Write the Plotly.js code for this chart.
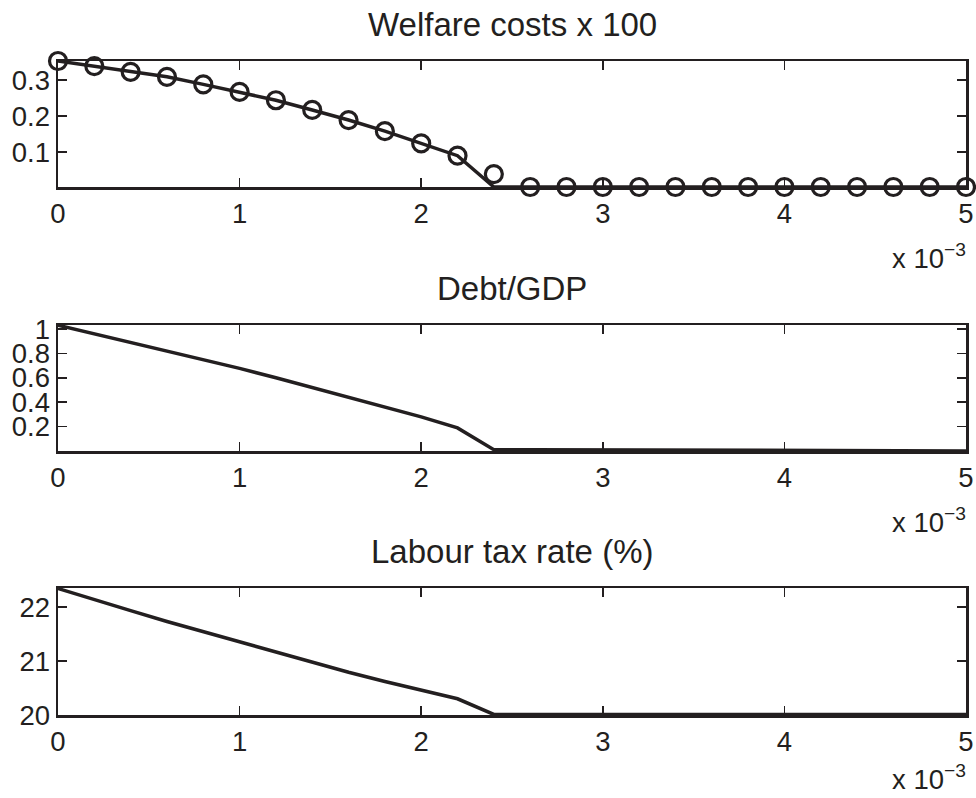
<!DOCTYPE html>
<html>
<head>
<meta charset="utf-8">
<script src="https://cdn.plot.ly/plotly-3.0.1.min.js"></script>
<style>html,body{margin:0;padding:0;background:#fff;}#chart{width:976px;height:798px;}</style>
</head>
<body>
<div id="chart"></div>
<script>
// x grid (units of 1e-3)
const xGrid = [0,0.2,0.4,0.6,0.8,1.0,1.2,1.4,1.6,1.8,2.0,2.2,2.4,2.6,2.8,3.0,3.2,3.4,3.6,3.8,4.0,4.2,4.4,4.6,4.8,5.0];

// Welfare costs x 100 (markers)
const welfareMarkers = [0.353,0.339,0.323,0.309,0.288,0.267,0.244,0.217,0.189,0.158,0.124,0.090,0.039,
  0.003,0.003,0.003,0.003,0.003,0.003,0.003,0.003,0.003,0.003,0.003,0.003,0.003];
// Welfare costs x 100 (line)
const welfareLine = [0.353,0.339,0.323,0.309,0.288,0.267,0.244,0.217,0.189,0.158,0.124,0.090,0.003,
  0.003,0.003,0.003,0.003,0.003,0.003,0.003,0.003,0.003,0.003,0.003,0.003,0.003];

// Debt/GDP
const debtGdp = [1.03,0.96,0.89,0.82,0.75,0.677,0.60,0.52,0.44,0.36,0.28,0.19,0.012,
  0.011,0.010,0.009,0.008,0.007,0.006,0.006,0.005,0.004,0.004,0.003,0.002,0.002];

// Labour tax rate (%)
const taxRate = [22.34,22.13,21.93,21.73,21.54,21.35,21.16,20.97,20.79,20.62,20.46,20.30,20.01,
  20.01,20.01,20.01,20.01,20.01,20.01,20.01,20.01,20.01,20.01,20.01,20.01,20.01];

const titles = ["Welfare costs x 100","Debt/GDP","Labour tax rate (%)"];
const xTickVals = [0,1,2,3,4,5];
const xTickText = ["0","1","2","3","4","5"];
const y1Ticks = [0.1,0.2,0.3];
const y2Ticks = [0.2,0.4,0.6,0.8,1];
const y3Ticks = [20,21,22];

const W = 976, H = 798;
const ink = '#231f20';
const fam = 'Liberation Sans, Arial, sans-serif';
const tickFont = {family: fam, size: 27.5, color: ink};
const titleFont = {family: fam, size: 33, color: ink};
const xd = [58/W, 966/W];
const panels = [[61,187],[325,451],[588,715]]; // top,bottom pixel
const dom = p => [1 - p[1]/H, 1 - p[0]/H];

function xax(anchor) {
  return {domain: xd, anchor: anchor, range: [0,5], tickvals: xTickVals, ticktext: xTickText,
    ticks: 'inside', ticklen: 9, tickwidth: 1.5, tickcolor: ink, showline: true, linewidth: 2.5,
    linecolor: ink, mirror: 'ticks', showgrid: false, zeroline: false, tickfont: tickFont, fixedrange: true};
}
function yax(anchor, dm, range, tv) {
  return {domain: dm, anchor: anchor, range: range, tickvals: tv, ticks: 'inside', ticklen: 9,
    tickwidth: 1.5, tickcolor: ink, showline: true, linewidth: 2.5, linecolor: ink, mirror: 'ticks',
    showgrid: false, zeroline: false, tickfont: tickFont, fixedrange: true};
}

const lineStyle = {color: ink, width: 3.5};
const data = [
  {x: xGrid, y: welfareLine, mode: 'lines', line: lineStyle, xaxis: 'x', yaxis: 'y', cliponaxis: false},
  {x: xGrid, y: welfareMarkers, mode: 'markers', marker: {symbol: 'circle-open', size: 17, color: ink, line: {width: 3.2, color: ink}}, xaxis: 'x', yaxis: 'y', cliponaxis: false},
  {x: xGrid, y: debtGdp, mode: 'lines', line: lineStyle, xaxis: 'x2', yaxis: 'y2'},
  {x: xGrid, y: taxRate, mode: 'lines', line: lineStyle, xaxis: 'x3', yaxis: 'y3'}
];

const annotations = [];
panels.forEach((p, i) => {
  annotations.push({text: titles[i], xref: 'paper', yref: 'paper', x: (xd[0]+xd[1])/2,
    y: 1 - (p[0]-16)/H, xanchor: 'center', yanchor: 'bottom', showarrow: false, font: titleFont});
  const bottomPx = Math.min(p[1] + 89, H - 1);
  annotations.push({text: 'x 10<sup>\u22123</sup>', xref: 'paper', yref: 'paper', x: 968/W,
    y: 1 - bottomPx/H, xanchor: 'right', yanchor: 'bottom', showarrow: false, font: tickFont});
});

const layout = {
  width: W, height: H, margin: {l: 0, r: 0, t: 0, b: 0},
  paper_bgcolor: '#fff', plot_bgcolor: '#fff', showlegend: false, font: tickFont,
  xaxis: xax('y'),
  yaxis: yax('x', dom(panels[0]), [0.003, 0.353], y1Ticks),
  xaxis2: xax('y2'),
  yaxis2: yax('x2', dom(panels[1]), [0.001, 1.032], y2Ticks),
  xaxis3: xax('y3'),
  yaxis3: yax('x3', dom(panels[2]), [20, 22.35], y3Ticks),
  annotations: annotations
};

Plotly.newPlot('chart', data, layout, {displayModeBar: false, staticPlot: true});
</script>
</body>
</html>
